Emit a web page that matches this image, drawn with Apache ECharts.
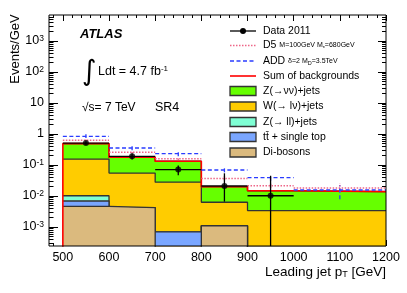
<!DOCTYPE html>
<html><head><meta charset="utf-8">
<script src="https://cdn.jsdelivr.net/npm/echarts@6/dist/echarts.min.js"></script>
<style>html,body{margin:0;padding:0;background:#fff}#c{width:407px;height:293px}</style>
</head><body><div id="c"></div>
<script>
// ---- data (Events/GeV) ----
const binEdges = [500, 600, 700, 800, 900, 1000, 1200];
const diBosons = [0.0046, 0.0042, 0, 0.0011, 0, 0];
const ttbarTop = [0.0023, 0, 0.0007, 0, 0, 0];
const zllJets  = [0.0033, 0, 0, 0, 0, 0];
const wJets    = [0.1448, 0.0508, 0.0273, 0.0052, 0.0034, 0.0034];
const znnJets  = [0.335, 0.123, 0.104, 0.0137, 0.0114, 0.0104];
const dataX  = [550, 650, 750, 850, 950];
const dataY  = [0.51, 0.19, 0.071, 0.021, 0.0102];
const dataLo = [0.45, 0.15, 0.047, 0.0066, 0];
const dataHi = [0.58, 0.235, 0.096, 0.054, 0.045];
const d5Y  = [0.63, 0.257, 0.16, 0.037, 0.0215, 0.0181];
const d5Lo = [0.60, 0.235, 0.145, 0.032, 0.018, 0.013];
const d5Hi = [0.67, 0.28, 0.175, 0.043, 0.025, 0.026];
const addY  = [0.84, 0.354, 0.232, 0.069, 0.039, 0.0156];
const addLo = [0.74, 0.30, 0.19, 0.058, 0.031, 0.0078];
const addHi = [0.98, 0.40, 0.28, 0.082, 0.048, 0.022];
const xTickLabels = [500, 600, 700, 800, 900, 1000, 1100, 1200];
const yTickLabels = [0.001, 0.01, 0.1, 1, 10, 100, 1000];

const X_MIN = 470, X_MAX = 1200, Y_MIN = 2.44e-4, Y_MAX = 6900;
const TINY = 1e-9;
const FONT = '"Liberation Sans", Arial, Helvetica, sans-serif';

const colors = { znn: '#66ff00', w: '#ffcc00', zll: '#7fffd4', tt: '#7aa6ff', vv: '#dbba7e' };

// cumulative stacks
const comps = [diBosons, ttbarTop, zllJets, wJets, znnJets];
const compColors = [colors.vv, colors.tt, colors.zll, colors.w, colors.znn];
const cum = [];
comps.forEach((c, k) => {
  cum.push(c.map((v, i) => v + (k > 0 ? cum[k - 1][i] : 0)));
});
const nb = binEdges.length - 1;
function stepPts(vals) {
  return binEdges.map((e, i) => [e, Math.max(vals[Math.min(i, nb - 1)], TINY)]);
}

// minor ticks
const xMinor = [];
for (let v = 480; v <= 1200; v += 20) if (v % 100 !== 0) xMinor.push(v);
const yMinor = [];
for (let d = -4; d <= 3; d++) for (let m = 2; m <= 9; m++) {
  const v = m * Math.pow(10, d);
  if (v > Y_MIN && v < Y_MAX) yMinor.push(v);
}

function mkX(pos, vals, len, labels) {
  return {
    type: 'value', min: X_MIN, max: X_MAX, position: pos, gridIndex: 0,
    axisLine: { show: false }, splitLine: { show: false },
    axisTick: { show: true, inside: true, length: len, customValues: vals, lineStyle: { color: '#000', width: 1 } },
    axisLabel: labels ? { show: true, customValues: vals, margin: 5, color: '#000', fontSize: 12.5, fontFamily: FONT, formatter: v => String(Math.round(v)) } : { show: false }
  };
}
function mkY(pos, vals, len, labels) {
  return {
    type: 'log', logBase: 10, min: Y_MIN, max: Y_MAX, position: pos, gridIndex: 0,
    axisLine: { show: false }, splitLine: { show: false },
    axisTick: { show: true, inside: true, length: len, customValues: vals, lineStyle: { color: '#000', width: 1 } },
    axisLabel: labels ? {
      show: true, customValues: vals, margin: 5, color: '#000', fontFamily: FONT, fontSize: 12,
      formatter: v => {
        const k = Math.round(Math.log10(v));
        if (k === 0) return '{a|1}';
        if (k === 1) return '{a|10}';
        return '{a|10}{b|' + k + '}';
      },
      rich: {
        a: { fontSize: 12.5, lineHeight: 14, fontFamily: FONT, color: '#000' },
        b: { fontSize: 8.5, lineHeight: 6, verticalAlign: 'top', fontFamily: FONT, color: '#000' }
      }
    } : { show: false }
  };
}

function errSeries(name, xs, x0s, x1s, ys, los, his, color, dash, width, z) {
  const items = ys.map((v, i) => [xs[i], v, x0s[i], x1s[i], Math.max(los[i], TINY), his[i]]);
  return {
    type: 'custom', name, z, data: items, encode: { x: 0, y: 1 }, silent: true,
    renderItem(params, api) {
      const cs = params.coordSys;
      const bottom = cs.y + cs.height, top = cs.y;
      const cl = y => Math.max(top, Math.min(bottom, y));
      const xc = api.value(0), v = api.value(1), x0 = api.value(2), x1 = api.value(3), lo = api.value(4), hi = api.value(5);
      const a = api.coord([x0, v]), b = api.coord([x1, v]);
      const l = api.coord([xc, lo]), h = api.coord([xc, hi]);
      const style = { stroke: color, lineWidth: width, lineDash: dash, fill: null };
      return { type: 'group', children: [
        { type: 'line', shape: { x1: a[0], y1: a[1], x2: b[0], y2: b[1] }, style },
        { type: 'line', shape: { x1: l[0], y1: cl(l[1]), x2: h[0], y2: cl(h[1]) }, style }
      ]};
    }
  };
}

const series = [];
// stacked histograms, largest first
for (let k = comps.length - 1; k >= 0; k--) {
  series.push({
    type: 'line', step: 'end', symbol: 'none', silent: true, z: 2 + (comps.length - k),
    data: stepPts(cum[k]),
    lineStyle: { color: '#333', width: 1.3 },
    areaStyle: { color: compColors[k], opacity: 1, origin: 'start' }
  });
}
// sum of backgrounds
const total = cum[comps.length - 1];
series.push({
  type: 'line', step: 'end', symbol: 'none', silent: true, z: 10,
  data: [[binEdges[0], TINY]].concat(stepPts(total)),
  lineStyle: { color: '#ff0000', width: 1.6 }
});
const centers = binEdges.slice(0, nb).map((e, i) => (e + binEdges[i + 1]) / 2);
const lefts = binEdges.slice(0, nb), rights = binEdges.slice(1);
series.push(errSeries('D5', centers, lefts, rights, d5Y, d5Lo, d5Hi, '#ee6688', [1.5, 1.5], 1.5, 11));
series.push(errSeries('ADD', centers, lefts, rights, addY, addLo, addHi, '#2a3cff', [4, 2.5], 1.3, 12));
series.push(errSeries('Data', dataX, dataX.map(x => x - 50), dataX.map(x => x + 50), dataY, dataLo, dataHi, '#000', null, 1.3, 13));
series.push({
  type: 'scatter', silent: true, z: 14, symbol: 'circle', symbolSize: 6,
  itemStyle: { color: '#000' },
  data: dataX.map((x, i) => [x, dataY[i]])
});

// legend (graphics)
const L_X = 230, L_W = 26, T_X = 263;
const rows = [31, 45.5, 61, 76, 91, 106.5, 122, 137, 152.5];
const g = [];
const txt = (x, y, text, extra) => ({ type: 'text', x, y, z: 100, style: Object.assign({ text, fill: '#000', font: '10.5px ' + FONT, textVerticalAlign: 'middle' }, extra || {}) });
g.push({ type: 'line', z: 100, shape: { x1: L_X, y1: rows[0], x2: L_X + L_W, y2: rows[0] }, style: { stroke: '#000', lineWidth: 1.3 } });
g.push({ type: 'circle', z: 100, shape: { cx: L_X + L_W / 2, cy: rows[0], r: 3 }, style: { fill: '#000' } });
g.push(txt(T_X, rows[0], 'Data 2011'));
g.push({ type: 'line', z: 100, shape: { x1: L_X, y1: rows[1], x2: L_X + L_W, y2: rows[1] }, style: { stroke: '#ee6688', lineWidth: 1.5, lineDash: [1.5, 1.5] } });
g.push({ type: 'text', x: T_X, y: rows[1], z: 100, style: { rich: {
  n: { font: '10.5px ' + FONT, fill: '#000' }, s: { font: '7px ' + FONT, fill: '#000' }, u: { font: '5.5px ' + FONT, fill: '#000', verticalAlign: 'bottom', lineHeight: 4 } },
  text: '{n|D5 }{s|M=100GeV M}{u|*}{s|=680GeV}', textVerticalAlign: 'middle' } });
g.push({ type: 'line', z: 100, shape: { x1: L_X, y1: rows[2], x2: L_X + L_W, y2: rows[2] }, style: { stroke: '#2a3cff', lineWidth: 1.3, lineDash: [4, 2.5] } });
g.push({ type: 'text', x: T_X, y: rows[2], z: 100, style: { rich: {
  n: { font: '10.5px ' + FONT, fill: '#000' }, s: { font: '7px ' + FONT, fill: '#000' }, u: { font: '5.5px ' + FONT, fill: '#000', verticalAlign: 'bottom', lineHeight: 4 } },
  text: '{n|ADD }{s|δ=2 M}{u|D}{s|=3.5TeV}', textVerticalAlign: 'middle' } });
g.push({ type: 'line', z: 100, shape: { x1: L_X, y1: rows[3], x2: L_X + L_W, y2: rows[3] }, style: { stroke: '#ff0000', lineWidth: 1.6 } });
g.push(txt(T_X, rows[3], 'Sum of backgrounds'));
const boxNames = ['Z(→νν)+jets', 'W(→ lν)+jets', 'Z(→ ll)+jets', 'tt\u0304 + single top', 'Di-bosons'];
const boxColors = [colors.znn, colors.w, colors.zll, colors.tt, colors.vv];
boxNames.forEach((n, i) => {
  const y = rows[4 + i];
  g.push({ type: 'rect', z: 100, shape: { x: L_X, y: y - 4.5, width: L_W, height: 9 }, style: { fill: boxColors[i], stroke: '#333', lineWidth: 1.3 } });
  g.push(txt(T_X, y, n));
});
// left annotations
g.push({ type: 'text', x: 80, y: 34, z: 100, style: { text: 'ATLAS', fill: '#000', font: 'italic bold 13px ' + FONT, textVerticalAlign: 'middle' } });
g.push({ type: 'text', x: 82, y: 73, z: 100, style: { text: '∫', fill: '#000', font: '28px "DejaVu Sans", ' + FONT, textVerticalAlign: 'middle' } });
g.push({ type: 'text', x: 98, y: 72, z: 100, style: { rich: {
  n: { font: '12.5px ' + FONT, fill: '#000', lineHeight: 15 }, u: { font: '8px ' + FONT, fill: '#000', verticalAlign: 'top', lineHeight: 5 } },
  text: '{n|Ldt = 4.7 fb}{u|-1}', textVerticalAlign: 'middle' } });
g.push({ type: 'text', x: 82, y: 108, z: 100, style: { text: '√s= 7 TeV', fill: '#000', font: '12px ' + FONT, textVerticalAlign: 'middle' } });
g.push({ type: 'text', x: 155, y: 108, z: 100, style: { text: 'SR4', fill: '#000', font: '12.5px ' + FONT, textVerticalAlign: 'middle' } });
// axis titles
g.push({ type: 'text', x: 15, y: 49, rotation: Math.PI / 2, z: 100, style: { text: 'Events/GeV', fill: '#000', font: '13px ' + FONT, textAlign: 'center', textVerticalAlign: 'middle' } });
g.push({ type: 'text', x: 386, y: 272, z: 100, style: { rich: {
  n: { font: '13.5px ' + FONT, fill: '#000' }, d: { font: '9px ' + FONT, fill: '#000', verticalAlign: 'bottom', lineHeight: 4 } },
  text: '{n|Leading jet p}{d|T}{n| [GeV]}', textAlign: 'right', textVerticalAlign: 'middle' } });

const option = {
  animation: false,
  backgroundColor: '#fff',
  grid: { left: 49, right: 21, top: 15, bottom: 47, show: true, borderColor: '#000', borderWidth: 1, backgroundColor: 'transparent', z: 50 },
  xAxis: [
    mkX('bottom', xTickLabels, 6, true),
    mkX('bottom', xMinor, 3, false),
    mkX('top', xTickLabels, 6, false),
    mkX('top', xMinor, 3, false)
  ],
  yAxis: [
    mkY('left', yTickLabels, 9, true),
    mkY('left', yMinor, 4.5, false),
    mkY('right', yTickLabels, 8, false),
    mkY('right', yMinor, 4, false)
  ],
  series,
  graphic: g
};
const chart = echarts.init(document.getElementById('c'), null, { renderer: 'canvas' });
chart.setOption(option);
</script>
</body></html>
